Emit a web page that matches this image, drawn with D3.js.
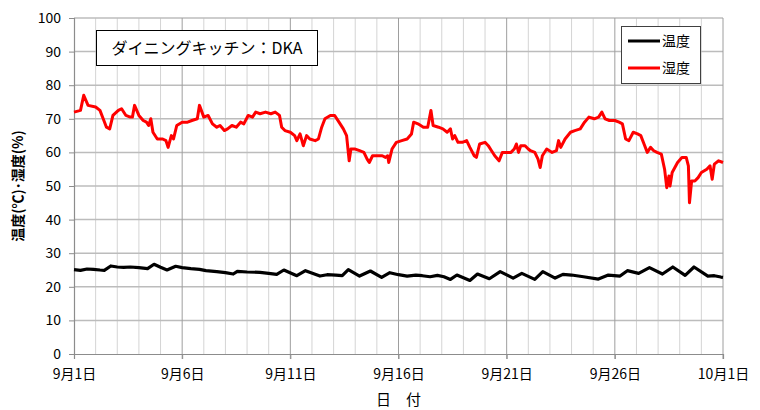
<!DOCTYPE html>
<html>
<head>
<meta charset="utf-8">
<script src="https://cdn.jsdelivr.net/npm/d3@7"></script>
<style>
  body { margin: 0; background: #fff; }
  text { font-family: "Noto Sans CJK JP", "DejaVu Sans", sans-serif; fill: #000; }
</style>
</head>
<body>
<div id="chart"></div>
<script>
// days since 9/1 00:00 and readings
var rhDays = [0, 0.3, 0.45, 0.65, 1.0, 1.2, 1.35, 1.5, 1.65, 1.8, 2.05, 2.2, 2.4, 2.6, 2.7, 2.8, 3.0, 3.2, 3.35, 3.45, 3.55, 3.65,
    3.85, 4.1, 4.25, 4.35, 4.5, 4.6, 4.75, 5.0, 5.25, 5.45, 5.7, 5.8, 6.0, 6.2, 6.4, 6.6, 6.75, 6.95, 7.1, 7.3, 7.5, 7.7,
    7.85, 8.05, 8.25, 8.4, 8.6, 8.85, 9.1, 9.3, 9.5, 9.6, 9.75, 10.0, 10.2, 10.3, 10.45, 10.6, 10.75, 10.9, 11.15, 11.3,
    11.45, 11.6, 11.85, 12.05, 12.25, 12.45, 12.6, 12.72, 12.8, 13.0, 13.2, 13.4, 13.55, 13.65, 13.8, 14.0, 14.25, 14.4,
    14.5, 14.55, 14.7, 14.9, 15.15, 15.4, 15.6, 15.7, 15.9, 16.15, 16.35, 16.5, 16.6, 16.85, 17.05, 17.25, 17.4, 17.5,
    17.6, 17.75, 17.95, 18.15, 18.3, 18.5, 18.6, 18.75, 19.0, 19.15, 19.3, 19.45, 19.65, 19.8, 19.95, 20.2, 20.35, 20.45,
    20.55, 20.65, 20.85, 21.0, 21.1, 21.3, 21.45, 21.55, 21.65, 21.85, 22.1, 22.3, 22.4, 22.5, 22.7, 22.95, 23.15, 23.4,
    23.6, 23.8, 24.05, 24.25, 24.4, 24.55, 24.75, 25.0, 25.2, 25.35, 25.5, 25.65, 25.85, 26.05, 26.2, 26.35, 26.5, 26.65,
    26.8, 26.95, 27.15, 27.3, 27.4, 27.5, 27.55, 27.65, 27.9, 28.1, 28.3, 28.4, 28.45, 28.55, 28.7, 28.85, 29.0, 29.25,
    29.4, 29.5, 29.6, 29.8, 30.0];
var rhValues = [72, 72.5, 77, 74, 73.5, 72.5, 70, 67.5, 67, 71, 72.5, 73, 71, 70.5, 70.5, 74, 71, 69.5, 69, 68, 70, 66,
    64, 64, 63.5, 61.5, 65, 64, 68, 69, 69, 69.5, 70, 74, 70.5, 71, 68.5, 67.5, 68, 66.5, 67, 68, 67.5, 69,
    68.5, 71, 70.5, 72, 71.5, 72, 71.5, 72, 71, 67.5, 66.5, 66, 65, 63.5, 65.5, 62, 65, 64, 63.5, 64,
    67.5, 70, 71, 71, 69, 67, 65, 57.5, 61, 61, 60.5, 60, 58, 57, 59, 59, 59, 58.5,
    59, 57, 61, 63, 63.5, 64, 65.5, 69, 68.5, 67.5, 67.5, 72.5, 68, 67.5, 67, 66, 67, 64,
    65, 63, 63, 63.5, 61.5, 59, 58.5, 62.5, 63, 62, 60.5, 59, 57.5, 60, 60, 60, 61, 62.5,
    60, 62, 62, 61, 60.5, 60, 58, 55.5, 59, 61, 60, 60.5, 63.5, 61.5, 64, 66, 66.5, 67,
    69, 70.5, 70, 70.5, 72, 70, 69.5, 69.5, 69, 68.5, 64, 63.5, 66, 65.5, 65, 62.5, 60, 61.5,
    60.5, 60, 59.5, 55, 49.5, 53, 50, 54, 57, 58.5, 58.5, 56, 45, 51.5, 51.5, 52.5, 54, 55,
    56, 52, 56.5, 57.5, 57];

var tDays = [0, 0.3, 0.6, 0.9, 1.2, 1.4, 1.7, 2.0, 2.3, 2.6, 3.0, 3.4, 3.7, 4.0, 4.3, 4.7, 5.0, 5.4, 5.8, 6.1, 6.6, 7.0,
    7.36, 7.55, 8.0, 8.6, 9.0, 9.37, 9.7, 10.3, 10.7, 11.37, 11.7, 12.1, 12.4, 12.68, 13.2, 13.7, 14.22, 14.6, 15.0,
    15.4, 15.8, 16.1, 16.46, 16.8, 17.1, 17.4, 17.7, 18.3, 18.65, 19.2, 19.7, 20.3, 20.7, 21.3, 21.67, 22.24, 22.6, 23.0,
    23.55, 24.24, 24.7, 25.24, 25.58, 26.1, 26.6, 27.2, 27.68, 28.25, 28.66, 29.3, 29.6, 29.9, 30.0];
var tValues = [25.1, 24.9, 25.3, 25.2, 25.0, 24.9, 26.2, 25.9, 25.8, 25.9, 25.7, 25.4, 26.7, 25.8, 25.0, 26.1, 25.7, 25.4, 25.2, 24.8, 24.5, 24.2,
    23.8, 24.6, 24.4, 24.3, 24.0, 23.7, 25.0, 23.3, 24.8, 23.2, 23.6, 23.5, 23.3, 25.1, 23.2, 24.7, 22.8, 24.2, 23.6,
    23.2, 23.5, 23.3, 23.0, 23.4, 23.0, 22.2, 23.5, 21.9, 23.8, 22.4, 24.5, 22.6, 24.0, 22.2, 24.5, 22.6, 23.7, 23.5,
    23.0, 22.3, 23.5, 23.2, 24.8, 24.0, 25.7, 23.8, 25.9, 23.4, 25.9, 23.2, 23.3, 22.9, 22.8];

var yTicks = d3.range(0, 101, 10);
var dateTicks = [0, 5, 10, 15, 20, 25, 30];
var dateLabels = ["9月1日", "9月6日", "9月11日", "9月16日", "9月21日", "9月26日", "10月1日"];
var seriesNames = ["温度", "湿度"];
var seriesColors = ["#000000", "#ff0000"];
var chartTitle = "ダイニングキッチン：DKA";

var width = 760, height = 410;
var margin = { top: 18, right: 37, bottom: 56, left: 74 };
var innerW = width - margin.left - margin.right;
var innerH = height - margin.top - margin.bottom;

var svg = d3.select("#chart").append("svg")
    .attr("width", width)
    .attr("height", height);

var g = svg.append("g")
    .attr("transform", "translate(" + margin.left + "," + margin.top + ")");

var x = d3.scaleLinear().domain([0, 30]).range([0, innerW]);
var y = d3.scaleLinear().domain([0, 100]).range([innerH, 0]);

// daily minor gridlines
g.selectAll(".minor")
    .data(d3.range(1, 30).filter(function (d) { return d % 5 !== 0; }))
    .enter().append("line")
    .attr("class", "minor")
    .attr("x1", function (d) { return x(d); })
    .attr("x2", function (d) { return x(d); })
    .attr("y1", 0).attr("y2", innerH)
    .attr("stroke", "#d4d4d4").attr("stroke-width", 1);

// horizontal gridlines
g.selectAll(".hgrid")
    .data(yTicks.slice(1))
    .enter().append("line")
    .attr("class", "hgrid")
    .attr("x1", 0).attr("x2", innerW)
    .attr("y1", function (d) { return y(d); })
    .attr("y2", function (d) { return y(d); })
    .attr("stroke", "#bcbcbc").attr("stroke-width", 1.5);

// major vertical gridlines every 5 days
g.selectAll(".major")
    .data(dateTicks.slice(1))
    .enter().append("line")
    .attr("class", "major")
    .attr("x1", function (d) { return x(d); })
    .attr("x2", function (d) { return x(d); })
    .attr("y1", 0).attr("y2", innerH + 5)
    .attr("stroke", "#9e9e9e").attr("stroke-width", 1);

// axes
var xAxis = d3.axisBottom(x).tickValues(dateTicks)
    .tickFormat(function (d, i) { return dateLabels[i]; })
    .tickSize(5).tickPadding(10);
var yAxis = d3.axisLeft(y).tickValues(yTicks).tickSize(5).tickPadding(8);

var gx = g.append("g").attr("transform", "translate(0," + innerH + ")").call(xAxis);
var gy = g.append("g").call(yAxis);
[gx, gy].forEach(function (ax) {
    ax.select(".domain").attr("stroke", "#8c8c8c").attr("stroke-width", 1.2);
    ax.selectAll(".tick line").attr("stroke", "#8c8c8c");
    ax.selectAll("text").style("font-size", "14px").attr("fill", "#000")
        .style("font-family", "'Noto Sans CJK JP', sans-serif");
});

// series
var line = d3.line()
    .x(function (d) { return x(d[0]); })
    .y(function (d) { return y(d[1]); });

var tempData = d3.zip(tDays, tValues);
var rhData = d3.zip(rhDays, rhValues);

g.append("path").datum(rhData)
    .attr("d", line).attr("fill", "none")
    .attr("stroke", seriesColors[1]).attr("stroke-width", 3)
    .attr("stroke-linejoin", "round");
g.append("path").datum(tempData)
    .attr("d", line).attr("fill", "none")
    .attr("stroke", seriesColors[0]).attr("stroke-width", 3.2)
    .attr("stroke-linejoin", "round");

// title box
svg.append("rect")
    .attr("x", 96.5).attr("y", 30.5).attr("width", 221).attr("height", 35)
    .attr("fill", "#fff").attr("stroke", "#000").attr("stroke-width", 1);
svg.append("text")
    .attr("x", 207).attr("y", 54)
    .attr("text-anchor", "middle")
    .style("font-size", "16px")
    .text(chartTitle);

// legend
var legend = svg.append("g").attr("transform", "translate(621,26)");
legend.append("rect")
    .attr("x", 0.5).attr("y", 0.5).attr("width", 79).attr("height", 57)
    .attr("fill", "#fff").attr("stroke", "#404040").attr("stroke-width", 1);
seriesNames.forEach(function (name, i) {
    var ly = 15 + i * 27;
    legend.append("line")
        .attr("x1", 7).attr("x2", 39).attr("y1", ly).attr("y2", ly)
        .attr("stroke", seriesColors[i]).attr("stroke-width", 3);
    legend.append("text")
        .attr("x", 41).attr("y", ly + 5)
        .style("font-size", "14px")
        .text(name);
});

// axis titles
svg.append("text")
    .attr("transform", "translate(23," + (margin.top + innerH / 2) + ") rotate(-90)")
    .attr("text-anchor", "middle")
    .style("font-size", "14px").style("font-weight", "bold")
    .text("温度(℃)･湿度(%)");
svg.append("text")
    .attr("x", margin.left + innerW / 2).attr("y", 405)
    .attr("text-anchor", "middle")
    .style("font-size", "15px")
    .attr("xml:space", "preserve")
    .text("日　付");
</script>
</body>
</html>
